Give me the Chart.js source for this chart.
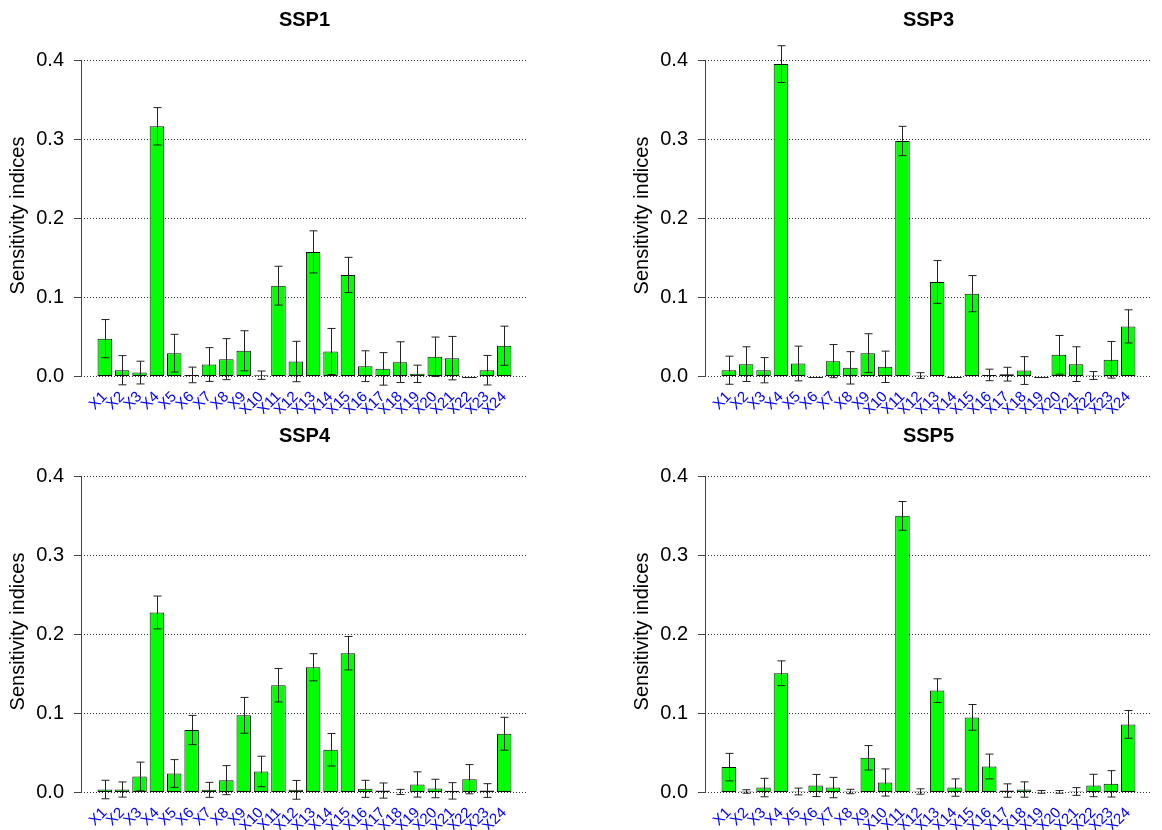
<!DOCTYPE html>
<html>
<head>
<meta charset="utf-8">
<script src="https://cdn.jsdelivr.net/npm/chart.js@4/dist/chart.umd.min.js"></script>
<style>
  body { margin: 0; background: #fff; }
  #wrap { position: relative; width: 1162px; height: 830px; overflow: hidden; }
  canvas { position: absolute; }
</style>
</head>
<body>
<div id="wrap">
  <canvas id="ssp1" width="538" height="414" style="left:0;top:0"></canvas>
  <canvas id="ssp3" width="538" height="414" style="left:624px;top:0"></canvas>
  <canvas id="ssp4" width="538" height="414" style="left:0;top:416px"></canvas>
  <canvas id="ssp5" width="538" height="414" style="left:624px;top:416px"></canvas>
</div>
<script>
// Sensitivity indices per input factor, with half-width of the error bars
const factors = ['X1','X2','X3','X4','X5','X6','X7','X8','X9','X10','X11','X12',
  'X13','X14','X15','X16','X17','X18','X19','X20','X21','X22','X23','X24'];
const yTicks = [0, 0.1, 0.2, 0.3, 0.4];

const ssp1Values = [0.048, 0.008, 0.005, 0.317, 0.0296, 0.002, 0.0152, 0.022, 0.0326, 0.0017, 0.1151, 0.019,
  0.1579, 0.0317, 0.1287, 0.0131, 0.0097, 0.0182, 0.0034, 0.025, 0.0233, 0, 0.008, 0.039];
const ssp1Errors = [0.0242, 0.0185, 0.0144, 0.0237, 0.0239, 0.0099, 0.0214, 0.026, 0.0254, 0.0053, 0.0246, 0.0256,
  0.0267, 0.0292, 0.0223, 0.0195, 0.0206, 0.0258, 0.011, 0.025, 0.0275, 0, 0.0187, 0.0248];

const ssp3Values = [0.008, 0.0157, 0.008, 0.3958, 0.0165, 0, 0.0195, 0.011, 0.0296, 0.0123, 0.2984, 0.0013,
  0.1198, 0, 0.105, 0.002, 0.003, 0.0076, 0, 0.0275, 0.0157, 0.0013, 0.0212, 0.0635];
const ssp3Errors = [0.0178, 0.022, 0.016, 0.0233, 0.022, 0, 0.021, 0.0205, 0.0246, 0.0199, 0.0186, 0.0036,
  0.0271, 0, 0.0229, 0.0073, 0.0087, 0.0176, 0, 0.0245, 0.022, 0.005, 0.0232, 0.021];

const ssp4Values = [0.0038, 0.0038, 0.0203, 0.2281, 0.0241, 0.0792, 0.0034, 0.0157, 0.0978, 0.0267, 0.1359, 0.0034,
  0.1587, 0.0542, 0.1765, 0.0047, 0.0025, 0.0008, 0.0102, 0.0051, 0.0021, 0.0169, 0.0025, 0.0745];
const ssp4Errors = [0.0117, 0.0096, 0.0182, 0.0208, 0.0176, 0.0185, 0.0095, 0.0184, 0.0227, 0.0193, 0.0212, 0.0119,
  0.0172, 0.0206, 0.0212, 0.0108, 0.0096, 0.0032, 0.016, 0.0117, 0.0104, 0.0185, 0.0087, 0.0208];

const ssp5Values = [0.0322, 0.0013, 0.0063, 0.1511, 0.0013, 0.0089, 0.0063, 0.0013, 0.044, 0.0127, 0.3505, 0.0013,
  0.1291, 0.0063, 0.0952, 0.033, 0.0025, 0.0038, 0.0008, 0.0008, 0.0013, 0.0089, 0.011, 0.0863];
const ssp5Errors = [0.0174, 0.0022, 0.0117, 0.0157, 0.0043, 0.014, 0.0129, 0.0028, 0.0155, 0.0172, 0.0182, 0.0034,
  0.015, 0.011, 0.0163, 0.0157, 0.0085, 0.0097, 0.0017, 0.0017, 0.0049, 0.0142, 0.0167, 0.0176];

Chart.defaults.font.family = '"Liberation Sans", Arial, sans-serif';
Chart.defaults.color = '#000';

// Error bars with small caps, drawn over the bars (plus a flat line for zero bars)
const errorBars = {
  id: 'errorBars',
  afterDatasetsDraw(chart, args, opts) {
    const { ctx, scales: { x, y } } = chart;
    const bars = chart.getDatasetMeta(0).data;
    const values = chart.data.datasets[0].data;
    ctx.save();
    ctx.strokeStyle = '#222';
    ctx.lineWidth = 1;
    values.forEach((p, i) => {
      const px = Math.round(x.getPixelForValue(p.x)) + 0.5;
      if (p.y === 0) {
        const y0 = Math.round(y.getPixelForValue(0)) + 0.5;
        ctx.beginPath();
        ctx.moveTo(bars[i].x - bars[i].width / 2, y0);
        ctx.lineTo(bars[i].x + bars[i].width / 2, y0);
        ctx.stroke();
      }
      const e = opts.errors[i];
      if (!e) return;
      const top = y.getPixelForValue(p.y + e);
      const bot = y.getPixelForValue(p.y - e);
      ctx.beginPath();
      ctx.moveTo(px, top); ctx.lineTo(px, bot);
      ctx.moveTo(px - 4, top); ctx.lineTo(px + 4, top);
      ctx.moveTo(px - 4, bot); ctx.lineTo(px + 4, bot);
      ctx.stroke();
    });
    ctx.restore();
  }
};

// R-style y axis line that only runs between the first and last tick
const axisLine = {
  id: 'axisLine',
  afterDraw(chart) {
    const { ctx, chartArea, scales: { y } } = chart;
    const x0 = Math.round(chartArea.left) + 0.5;
    ctx.save();
    ctx.strokeStyle = '#444';
    ctx.lineWidth = 1;
    ctx.beginPath();
    ctx.moveTo(x0, y.getPixelForValue(yTicks[0]));
    ctx.lineTo(x0, y.getPixelForValue(yTicks[yTicks.length - 1]));
    ctx.stroke();
    ctx.restore();
  }
};

function makePanel(id, title, values, errors) {
  new Chart(document.getElementById(id), {
    type: 'bar',
    data: {
      datasets: [{
        data: values.map((v, i) => ({ x: i + 1, y: v })),
        backgroundColor: '#00ff00',
        borderColor: '#111',
        borderWidth: 1,
        borderSkipped: false,
        barPercentage: 1,
        categoryPercentage: 0.833
      }]
    },
    options: {
      responsive: false,
      animation: false,
      layout: { padding: { left: 0, right: 10, top: 0, bottom: 0 } },
      scales: {
        x: {
          type: 'linear',
          offset: false,
          min: -0.37,
          max: 25.37,
          grid: { display: false, drawTicks: false, offset: false },
          border: { display: false },
          afterBuildTicks: axis => { axis.ticks = factors.map((_, i) => ({ value: i + 1 })); },
          afterFit: axis => {
            axis.height = 28;
            axis.paddingLeft = 0;
            axis.paddingRight = 0;
          },
          ticks: {
            autoSkip: false,
            minRotation: 45,
            maxRotation: 45,
            padding: 2,
            color: '#0000ff',
            font: { size: 15 },
            callback: (v, i) => factors[i]
          }
        },
        y: {
          min: -0.012,
          max: 0.42,
          afterBuildTicks: axis => { axis.ticks = yTicks.map(v => ({ value: v })); },
          afterFit: axis => { axis.width = 81; },
          grid: { color: '#333', tickColor: '#444', tickLength: 7, tickBorderDash: [] },
          border: { display: false, dash: [1, 2] },
          ticks: {
            padding: 10,
            font: { size: 20 },
            callback: v => v.toFixed(1)
          },
          title: {
            display: true,
            text: 'Sensitivity indices',
            font: { size: 20 },
            padding: { top: 6, bottom: 0 }
          }
        }
      },
      plugins: {
        legend: { display: false },
        tooltip: { enabled: false },
        title: {
          display: true,
          text: title,
          fullSize: false,
          color: '#000',
          font: { size: 20, weight: 'bold' },
          padding: { top: 8, bottom: 13 }
        },
        errorBars: { errors: errors }
      }
    },
    plugins: [errorBars, axisLine]
  });
}

document.addEventListener('DOMContentLoaded', () => {
  makePanel('ssp1', 'SSP1', ssp1Values, ssp1Errors);
  makePanel('ssp3', 'SSP3', ssp3Values, ssp3Errors);
  makePanel('ssp4', 'SSP4', ssp4Values, ssp4Errors);
  makePanel('ssp5', 'SSP5', ssp5Values, ssp5Errors);
});
</script>
</body>
</html>
